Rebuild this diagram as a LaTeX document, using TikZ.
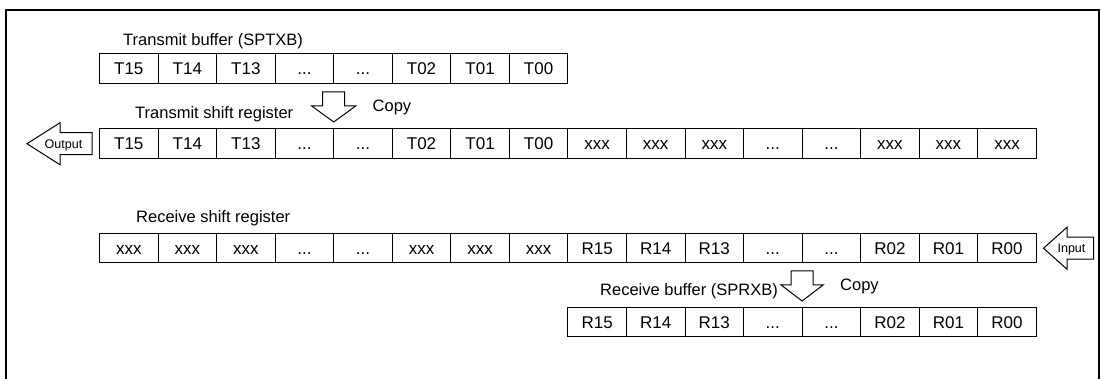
\documentclass[tikz,border=0pt]{standalone}
\usepackage{fontspec}
\setmainfont{Liberation Sans}
\usetikzlibrary{positioning}
\newcommand\gap{...}

\begin{document}
\begin{tikzpicture}[x=1pt,y=-1pt,node distance=0pt,
 cell/.style={draw,line width=1pt,minimum width=58.55pt,minimum height=29.5pt,
  inner sep=0pt,outer sep=0pt,text height=12pt,text depth=0pt,
  font=\fontsize{17}{19}\selectfont},
 lbl/.style={inner sep=0pt,anchor=base west,font=\fontsize{16.5}{18}\selectfont},
 hollow/.style={draw,line width=1pt,fill=white},
 small/.style={inner sep=0pt,anchor=base,font=\fontsize{12.5}{14}\selectfont}]
\useasboundingbox (0,0) rectangle (1101,379);
\draw[line width=2pt] (6,379) -- (6,10) -- (1099,10) -- (1099,379);

% transmit side
\node[lbl] (tbl) at (123,46) {Transmit buffer (SPTXB)};
\node[cell,anchor=north west] (tb1) at (99.5,54) {T15};
\foreach \t [count=\i from 2,remember=\i as \p (initially 1)] in
  {T14,T13,\gap,\gap,T02,T01,T00}
  \node[cell,right=of tb\p] (tb\i) {\t};

\node[lbl] (tsl) at (135,119) {Transmit shift register};
\node[cell,below=45.5pt of tb1] (ts1) {T15};
\foreach \t [count=\i from 2,remember=\i as \p (initially 1)] in
  {T14,T13,\gap,\gap,T02,T01,T00,xxx,xxx,xxx,\gap,\gap,xxx,xxx,xxx}
  \node[cell,right=of ts\p] (ts\i) {\t};

\draw[hollow] ([yshift=7pt]ts4.north east) -- ++(-22,-16) -- ++(11,0) -- ++(0,-14)
  -- ++(22,0) -- ++(0,14) -- ++(11,0) -- cycle;
\node[lbl] (cp1) at (372.5,112) {Copy};

\draw[hollow] (27,143.75) -- (60,122.75) -- (60,132.75) -- (92,132.75) -- (92,154.75)
  -- (60,154.75) -- (60,164.75) -- cycle;
\node[small] (out) at (63.5,148.2) {Output};

% receive side
\node[lbl] (rsl) at (136,223) {Receive shift register};
\node[cell,below=75pt of ts1] (rs1) {xxx};
\foreach \t [count=\i from 2,remember=\i as \p (initially 1)] in
  {xxx,xxx,\gap,\gap,xxx,xxx,xxx,R15,R14,R13,\gap,\gap,R02,R01,R00}
  \node[cell,right=of rs\p] (rs\i) {\t};

\draw[hollow] (1043.5,248.25) -- (1067,227.25) -- (1067,237.25) -- (1093.5,237.25)
  -- (1093.5,259.25) -- (1067,259.25) -- (1067,269.25) -- cycle;
\node[small] (in) at (1071.5,252.7) {Input};

\node[cell,below=44.5pt of rs9] (rb1) {R15};
\foreach \t [count=\i from 2,remember=\i as \p (initially 1)] in
  {R14,R13,\gap,\gap,R02,R01,R00}
  \node[cell,right=of rb\p] (rb\i) {\t};
\node[lbl,anchor=base east] (rbl) at (778,296) {Receive buffer (SPRXB)};

\draw[hollow] ([yshift=6.5pt]rb4.north east) -- ++(-21,-16) -- ++(10,0) -- ++(0,-14)
  -- ++(22,0) -- ++(0,14) -- ++(10,0) -- cycle;
\node[lbl] (cp2) at (840,291) {Copy};
\end{tikzpicture}
\end{document}
